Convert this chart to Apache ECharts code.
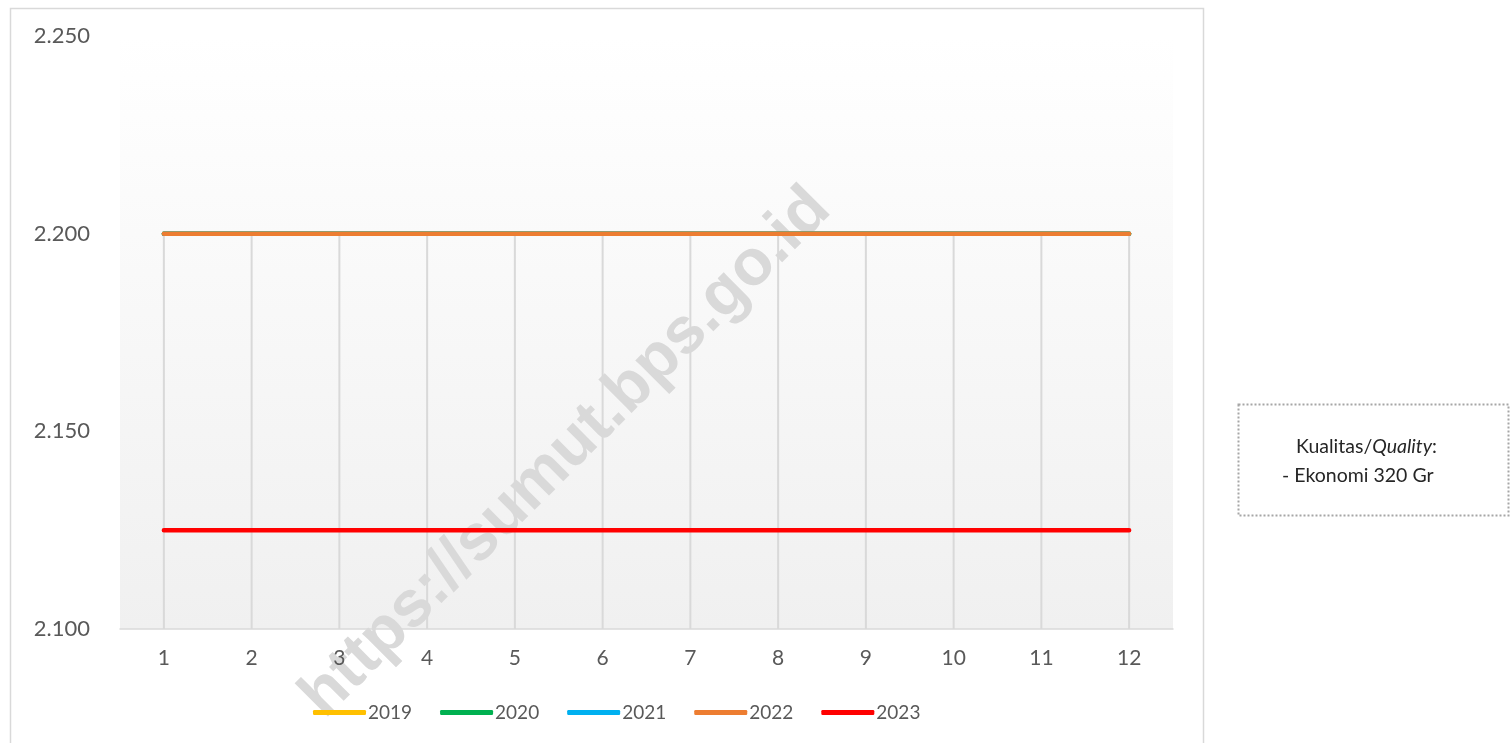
<!DOCTYPE html>
<html>
<head>
<meta charset="utf-8">
<script src="https://cdn.jsdelivr.net/npm/echarts@6/dist/echarts.min.js"></script>
<style>
html,body{margin:0;padding:0;background:#fff;}
#chart{width:1511px;height:743px;}
</style>
</head>
<body>
<div id="chart"></div>
<script>
// ---- Data ----
const months = ['1','2','3','4','5','6','7','8','9','10','11','12'];
const seriesNames = ['2019','2020','2021','2022','2023'];
const s2019 = [2200,2200,2200,2200,2200,2200,2200,2200,2200,2200,2200,2200];
const s2020 = [2200,2200,2200,2200,2200,2200,2200,2200,2200,2200,2200,2200];
const s2021 = [2200,2200,2200,2200,2200,2200,2200,2200,2200,2200,2200,2200];
const s2022 = [2200,2200,2200,2200,2200,2200,2200,2200,2200,2200,2200,2200];
const s2023 = [2125,2125,2125,2125,2125,2125,2125,2125,2125,2125,2125,2125];
const seriesColors = ['#FFC000','#00B050','#00B0F0','#ED7D31','#FF0000'];
const yMin = 2100, yMax = 2250, yStep = 50;
const noteLine1 = ['Kualitas/','Quality',':'];
const noteLine2 = '- Ekonomi 320 Gr';
const watermark = 'https://sumut.bps.go.id';

const allSeries = [s2019, s2020, s2021, s2022, s2023];
const dropData = months.map((m, i) => [i, Math.max(...allSeries.map(s => s[i]))]);

const FONT = 'Lato, "Noto Sans", sans-serif';
const fmt = v => { const s = String(Math.round(v)); return s.replace(/\B(?=(\d{3})+(?!\d))/g, '.'); };

const chart = echarts.init(document.getElementById('chart'), null, {renderer:'canvas'});
const option = {
  backgroundColor: '#fff',
  animation: false,
  textStyle: {fontFamily: FONT},
  grid: {
    left: 120, right: 338, top: 36, bottom: 114,
    show: true, borderWidth: 0,
    backgroundColor: new echarts.graphic.LinearGradient(0,0,0,1,[
      {offset:0,color:'#ffffff'},{offset:1,color:'#f0f0f0'}
    ])
  },
  legend: {
    data: seriesNames,
    z: 20,
    left: 308, top: 698,
    itemWidth: 53, itemHeight: 5, itemGap: 28,
    icon: 'roundRect',
    textStyle: {color:'#595959', fontSize:19, fontFamily: FONT, padding:[0,0,0,-3]}
  },
  xAxis: {
    type: 'category', data: months, boundaryGap: true, z: 20,
    axisLine: {show:true, lineStyle:{color:'#d9d9d9', width:1.5}},
    axisTick: {show:false},
    splitLine: {show:false},
    axisLabel: {color:'#595959', fontSize:21, margin:19, fontFamily: FONT}
  },
  yAxis: {
    type: 'value', min: yMin, max: yMax, interval: yStep,
    axisLine: {show:false}, axisTick: {show:false},
    splitLine: {show:false},
    axisLabel: {color:'#595959', fontSize:22, margin:30, fontFamily: FONT, formatter: fmt}
  },
  graphic: [
    {type:'rect', z:-10, shape:{x:10.5,y:8.5,width:1193,height:760}, style:{fill:'none', stroke:'#d9d9d9', lineWidth:1.5}, silent:true},
    {type:'text', z:2, x:566, y:453, rotation: Math.PI/4, originX:0, originY:0,
      style:{text: watermark, font:'bold 65px "Liberation Sans", Arial, sans-serif', fill:'#d9d9d9', align:'center', verticalAlign:'middle'}, silent:true},
    {type:'rect', shape:{x:1238.5,y:404.5,width:270,height:111}, style:{fill:'#fff', stroke:'#a6a6a6', lineWidth:2, lineDash:[2,2]}, silent:true},
    {type:'text', x:1296, y:447, style:{
      text: '{a|'+noteLine1[0]+'}{b|'+noteLine1[1]+'}{a|'+noteLine1[2]+'}',
      verticalAlign:'middle',
      rich:{a:{fontSize:19.5, fontFamily:FONT, fill:'#262626', color:'#262626'}, b:{fontSize:19.5, fontFamily:FONT, fontStyle:'italic', fill:'#262626', color:'#262626'}}
    }, silent:true},
    {type:'text', x:1282, y:476, style:{text: noteLine2, font:'19.5px '+FONT, fill:'#262626', verticalAlign:'middle'}, silent:true}
  ],
  series: [
    {
      type:'custom', name:'drop', z:1, silent:true, clip:false,
      data: dropData,
      renderItem: function(params, api){
        const top = api.coord([api.value(0), api.value(1)]);
        const bot = api.coord([api.value(0), yMin]);
        return {type:'line', shape:{x1:top[0], y1:top[1], x2:bot[0], y2:bot[1]}, style:{stroke:'#d9d9d9', lineWidth:2}};
      }
    }
  ].concat(seriesNames.map((n, k) => ({
    type:'line', name:n, data: allSeries[k], z: 3+k,
    symbol:'none', smooth:false,
    lineStyle:{color: seriesColors[k], width:4.5, cap:'round'},
    itemStyle:{color: seriesColors[k]}
  })))
};
chart.setOption(option);
</script>
</body>
</html>
